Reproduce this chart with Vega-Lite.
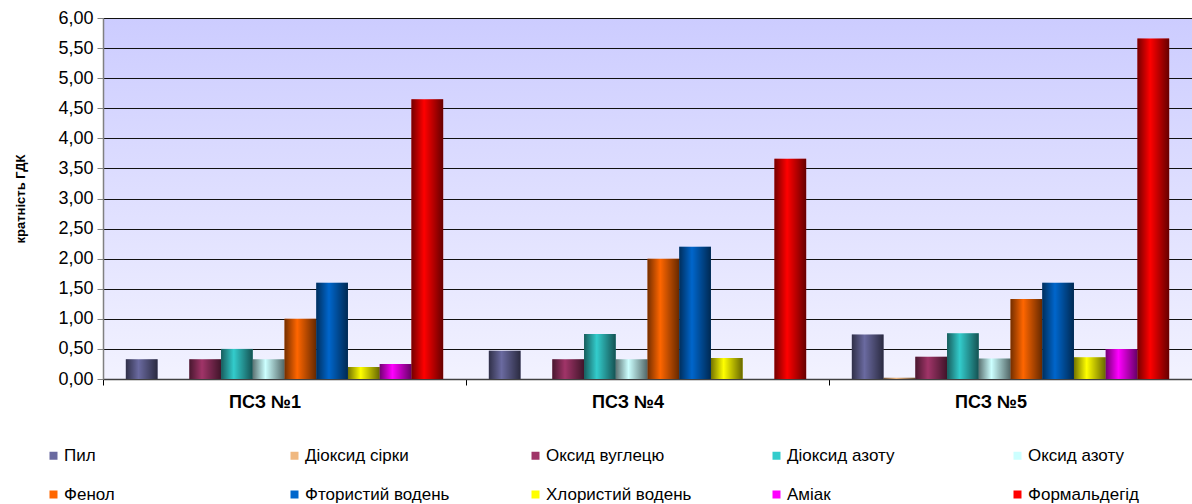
{
  "$schema": "https://vega.github.io/schema/vega-lite/v6.json",
  "width": 1089,
  "height": 361,
  "autosize": {"type": "none"},
  "padding": {"left": 103, "top": 18, "right": 0, "bottom": 125},
  "background": "white",
  "config": {
    "font": "Liberation Sans",
    "view": {
      "stroke": null,
      "fill": {"gradient": "linear", "x1": 0, "y1": 0, "x2": 0, "y2": 1, "stops": [{"offset": 0, "color": "#ccccff"}, {"offset": 1, "color": "#f2f2ff"}]}
    }
  },
  "data": {
    "values": [
      {"station": "ПСЗ №1", "pollutant": "Пил", "value": 0.33},
      {"station": "ПСЗ №1", "pollutant": "Діоксид сірки", "value": 0},
      {"station": "ПСЗ №1", "pollutant": "Оксид вуглецю", "value": 0.33},
      {"station": "ПСЗ №1", "pollutant": "Діоксид азоту", "value": 0.5},
      {"station": "ПСЗ №1", "pollutant": "Оксид азоту", "value": 0.33},
      {"station": "ПСЗ №1", "pollutant": "Фенол", "value": 1.0},
      {"station": "ПСЗ №1", "pollutant": "Фтористий водень", "value": 1.6},
      {"station": "ПСЗ №1", "pollutant": "Хлористий водень", "value": 0.2},
      {"station": "ПСЗ №1", "pollutant": "Аміак", "value": 0.25},
      {"station": "ПСЗ №1", "pollutant": "Формальдегід", "value": 4.65},
      {"station": "ПСЗ №4", "pollutant": "Пил", "value": 0.47},
      {"station": "ПСЗ №4", "pollutant": "Діоксид сірки", "value": 0},
      {"station": "ПСЗ №4", "pollutant": "Оксид вуглецю", "value": 0.33},
      {"station": "ПСЗ №4", "pollutant": "Діоксид азоту", "value": 0.75},
      {"station": "ПСЗ №4", "pollutant": "Оксид азоту", "value": 0.33},
      {"station": "ПСЗ №4", "pollutant": "Фенол", "value": 2.0},
      {"station": "ПСЗ №4", "pollutant": "Фтористий водень", "value": 2.2},
      {"station": "ПСЗ №4", "pollutant": "Хлористий водень", "value": 0.35},
      {"station": "ПСЗ №4", "pollutant": "Аміак", "value": 0},
      {"station": "ПСЗ №4", "pollutant": "Формальдегід", "value": 3.66},
      {"station": "ПСЗ №5", "pollutant": "Пил", "value": 0.74},
      {"station": "ПСЗ №5", "pollutant": "Діоксид сірки", "value": 0.02},
      {"station": "ПСЗ №5", "pollutant": "Оксид вуглецю", "value": 0.37},
      {"station": "ПСЗ №5", "pollutant": "Діоксид азоту", "value": 0.76},
      {"station": "ПСЗ №5", "pollutant": "Оксид азоту", "value": 0.34},
      {"station": "ПСЗ №5", "pollutant": "Фенол", "value": 1.33},
      {"station": "ПСЗ №5", "pollutant": "Фтористий водень", "value": 1.6},
      {"station": "ПСЗ №5", "pollutant": "Хлористий водень", "value": 0.36},
      {"station": "ПСЗ №5", "pollutant": "Аміак", "value": 0.5},
      {"station": "ПСЗ №5", "pollutant": "Формальдегід", "value": 5.66}
    ]
  },
  "encoding": {
    "x": {
      "field": "station", "type": "nominal", "sort": null,
      "scale": {"paddingInner": 0, "paddingOuter": 0},
      "axis": {"title": null, "labelAngle": 0, "labelFontSize": 18, "labelFontWeight": "bold", "labelColor": "#000", "labelOffset": -20, "labelPadding": 8, "tickBand": "extent", "ticks": true, "tickSize": 6, "tickColor": "#000", "domainColor": "#404040", "domainWidth": 1.5, "grid": false}
    },
    "xOffset": {
      "field": "pollutant", "type": "nominal",
      "sort": ["Пил", "Діоксид сірки", "Оксид вуглецю", "Діоксид азоту", "Оксид азоту", "Фенол", "Фтористий водень", "Хлористий водень", "Аміак", "Формальдегід"],
      "scale": {"paddingInner": 0, "paddingOuter": 0.72}
    },
    "y": {
      "field": "value", "type": "quantitative",
      "scale": {"domain": [0, 6], "nice": false},
      "axis": {
        "title": "кратність ГДК", "titleFontSize": 13, "titleFontWeight": "bold", "titleColor": "#000", "titlePadding": 30,
        "values": [0, 0.5, 1, 1.5, 2, 2.5, 3, 3.5, 4, 4.5, 5, 5.5, 6],
        "labelExpr": "replace(format(datum.value, '.2f'), '.', ',')",
        "labelFontSize": 18, "labelColor": "#000", "labelPadding": 4,
        "tickSize": 6, "tickColor": "#808080", "domainColor": "#808080", "domainWidth": 1.5,
        "grid": true, "gridColor": "#111", "gridWidth": 1
      }
    }
  },
  "layer": [
    {
      "mark": {"type": "bar", "width": {"band": 1}},
      "encoding": {
        "color": {
          "field": "pollutant", "type": "nominal",
          "sort": ["Пил", "Діоксид сірки", "Оксид вуглецю", "Діоксид азоту", "Оксид азоту", "Фенол", "Фтористий водень", "Хлористий водень", "Аміак", "Формальдегід"],
          "scale": {
            "domain": ["Пил", "Діоксид сірки", "Оксид вуглецю", "Діоксид азоту", "Оксид азоту", "Фенол", "Фтористий водень", "Хлористий водень", "Аміак", "Формальдегід"],
            "range": ["#6a6aa0", "#f0b880", "#a03468", "#33cccc", "#ccffff", "#ff6600", "#0066cc", "#ffff00", "#ff00ff", "#ff0000"]
          },
          "legend": {
            "orient": "none", "legendX": -58, "legendY": 429, "direction": "horizontal", "columns": 5, "gridAlign": "all",
            "columnPadding": 76, "rowPadding": 21, "title": null, "symbolType": "square", "symbolSize": 64, "symbolStrokeWidth": 0,
            "labelFontSize": 17, "labelColor": "#000", "labelOffset": 2, "labelLimit": 300
          }
        }
      }
    },
    {
      "mark": {
        "type": "bar", "width": {"band": 1},
        "color": {"gradient": "linear", "x1": 0, "y1": 0, "x2": 1, "y2": 0, "stops": [{"offset": 0, "color": "rgba(0,0,0,0.55)"}, {"offset": 0.4, "color": "rgba(0,0,0,0)"}, {"offset": 1, "color": "rgba(0,0,0,0.6)"}]}
      },
      "encoding": {}
    }
  ]
}
